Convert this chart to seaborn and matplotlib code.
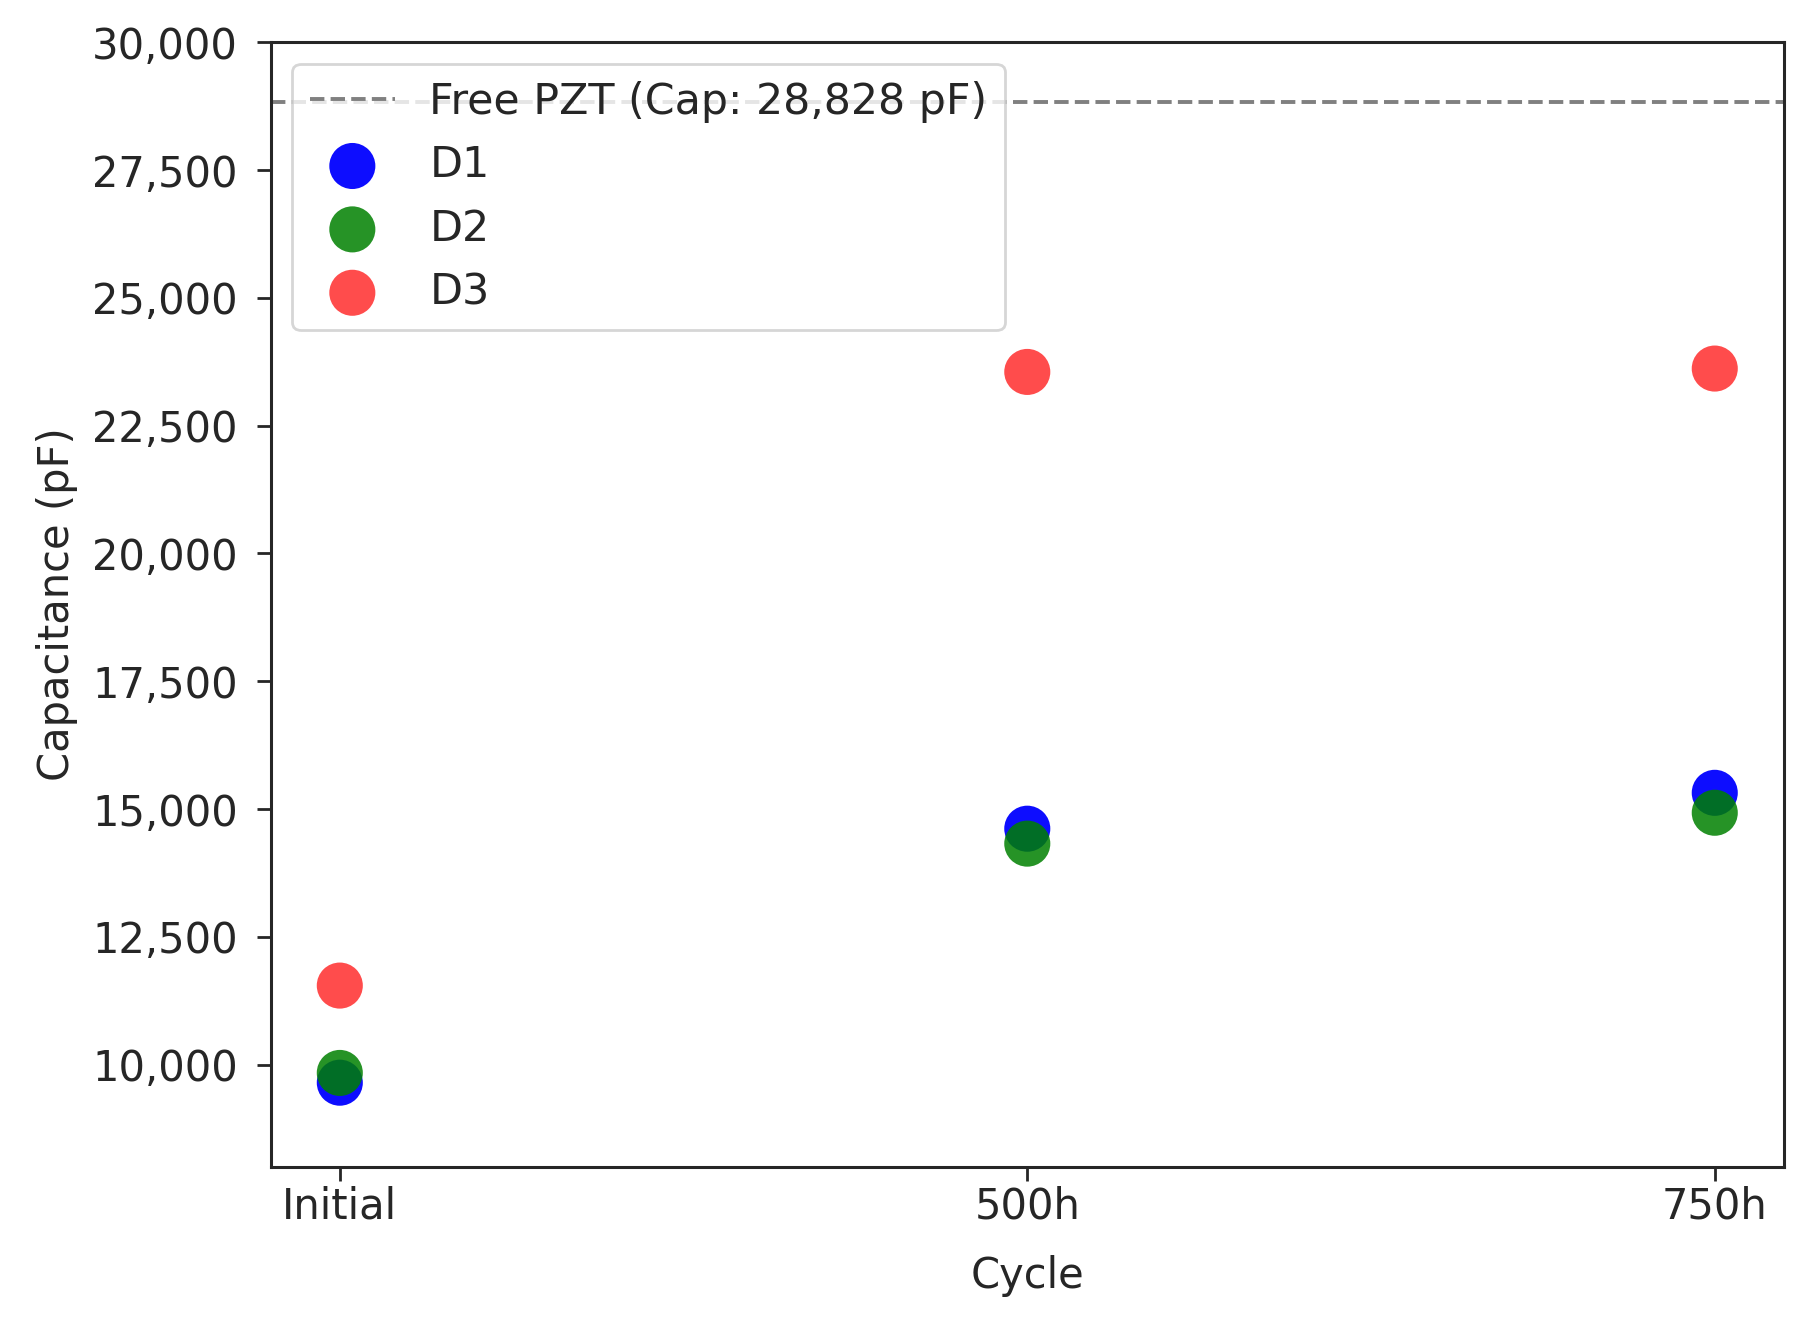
import numpy as np
import pandas as pd
import matplotlib
matplotlib.use("Agg")
import matplotlib.pyplot as plt
import matplotlib.ticker as mticker
import seaborn as sns

# values
cycles = ["Initial", "500h", "750h"]
d1 = [9647, 14616, 15318]
d2 = [9838, 14324, 14928]
d3 = [11547, 23552, 23618]
free_pzt = 28828

devices = ["D1", "D2", "D3"]
colors = ["blue", "green", "red"]
alphas = [0.95, 0.85, 0.7]

df = pd.DataFrame({
    "Cycle": cycles * 3,
    "Capacitance": d1 + d2 + d3,
    "Device": [d for d in devices for _ in cycles],
})

sns.set_style("ticks")
plt.rcParams["font.family"] = ["DejaVu Sans"]
plt.rcParams["font.size"] = 30

fig, ax = plt.subplots(figsize=(18.07, 13.23), dpi=100)
fig.subplots_adjust(left=0.150, right=0.987, top=0.968, bottom=0.118)

ax.axhline(free_pzt, color="gray", linestyle="--", linewidth=2.8,
           label=f"Free PZT (Cap: {free_pzt:,} pF)")

for dev, col, a in zip(devices, colors, alphas):
    sub = df[df["Device"] == dev]
    sns.scatterplot(data=sub, x="Cycle", y="Capacitance", color=col,
                    s=1100, alpha=a, edgecolor="none", label=dev, ax=ax)

ax.set_ylim(8000, 30000)
ax.set_xlim(-0.1, 2.1)
ax.yaxis.set_major_locator(mticker.MultipleLocator(2500))
ax.yaxis.set_major_formatter(mticker.StrMethodFormatter("{x:,.0f}"))
ax.set_xlabel("Cycle", fontsize=30, labelpad=20)
ax.set_ylabel("Capacitance (pF)", fontsize=30, labelpad=10)
ax.tick_params(labelsize=30, length=10, width=2, colors="#262626")
ax.tick_params(axis="y", pad=14)

for sp in ax.spines.values():
    sp.set_color("#262626")
    sp.set_linewidth(2.2)

leg = ax.legend(loc="upper left", fontsize=30.8, frameon=True, labelspacing=0.5)
leg.get_frame().set_linewidth(2)

fig.savefig("out.png", dpi=100, facecolor="white")
